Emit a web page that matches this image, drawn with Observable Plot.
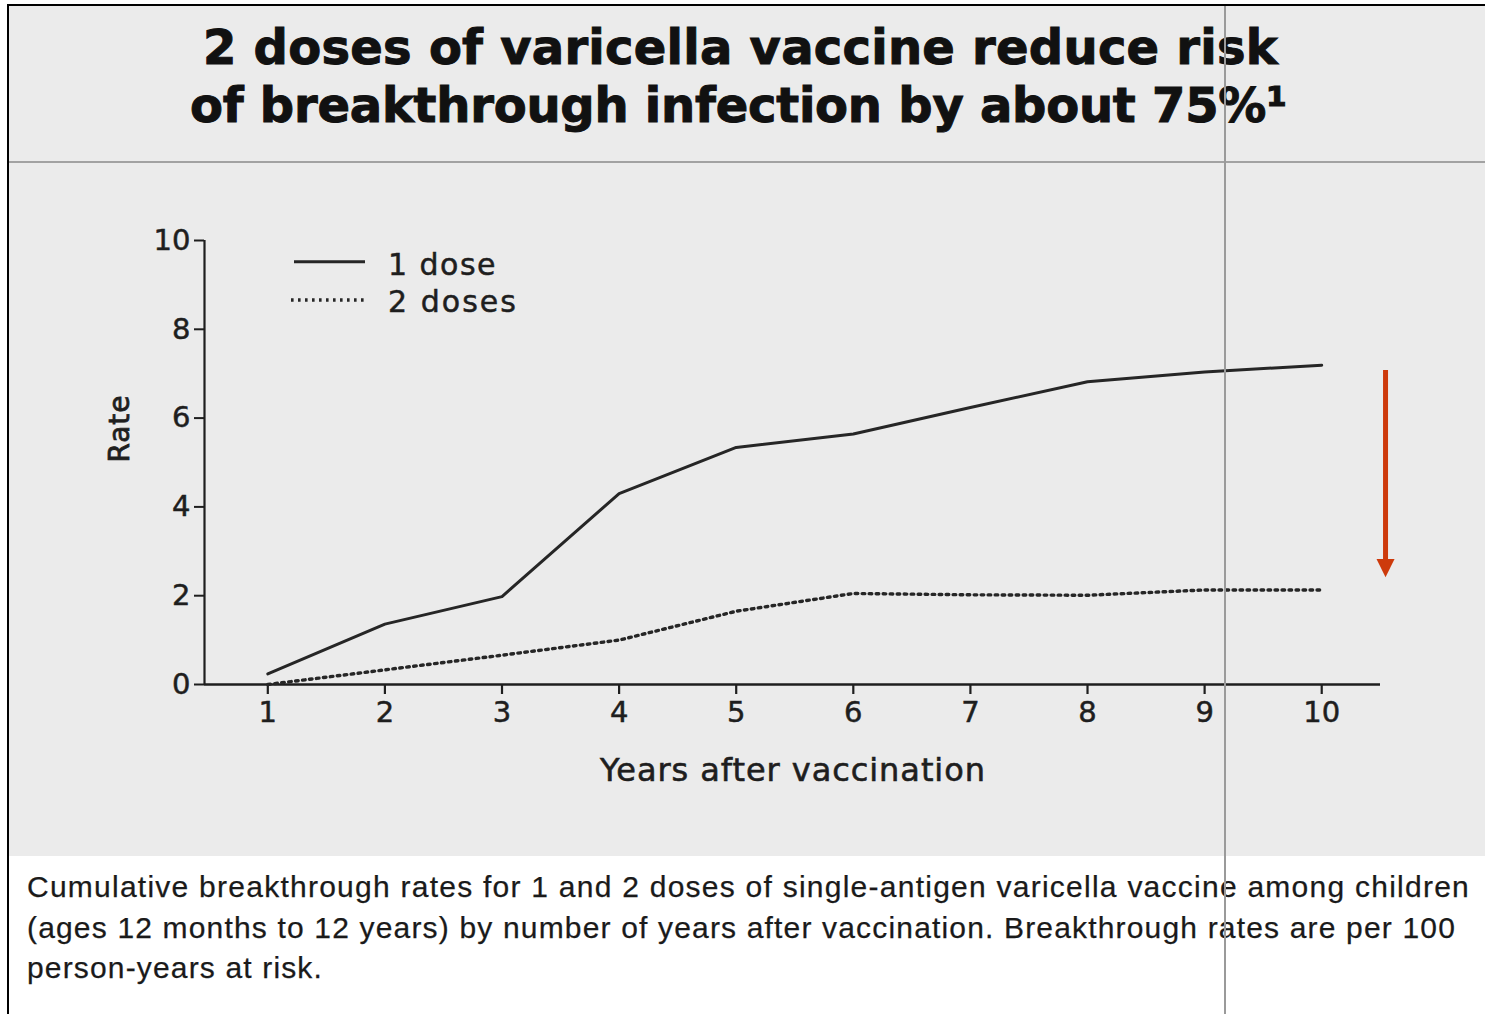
<!DOCTYPE html>
<html>
<head>
<meta charset="utf-8">
<script src="https://cdn.jsdelivr.net/npm/d3@7"></script>
<script src="https://cdn.jsdelivr.net/npm/@observablehq/plot@0.6"></script>
<style>
  html, body { margin: 0; padding: 0; background: #fff; }
  #page { position: relative; width: 1485px; height: 1014px; overflow: hidden; background: #fff; font-family: "DejaVu Sans", sans-serif; }
  .abs { position: absolute; }
  .line { position: absolute; white-space: nowrap; display: inline-block; }
  .title { font-family: "DejaVu Sans"; font-weight: bold; font-size: 48px; line-height: 48px; color: #111; -webkit-text-stroke: 1px #111; }
  .cap { font-family: "Liberation Sans"; font-size: 30px; line-height: 30px; color: #1a1a1a; -webkit-text-stroke: 0.25px #1a1a1a; }
  .leg { font-family: "DejaVu Sans"; font-size: 30px; line-height: 30px; color: #1e1e1e; -webkit-text-stroke: 0.5px #1e1e1e; }
</style>
</head>
<body>
<div id="page">
  <div class="abs" style="left:9px;top:6px;width:1476px;height:850px;background:#ebebeb;"></div>
  <div class="abs" style="left:9px;top:161px;width:1476px;height:2px;background:#a2a2a2;"></div>
  <div id="t1" class="line title" style="left:203px;top:23px;"></div>
  <div id="t2" class="line title" style="left:190px;top:81px;"></div>
  <div id="chart" class="abs" style="left:0;top:0;"></div>
  <svg class="abs" style="left:280px;top:245px;" width="100" height="70">
    <line x1="14" x2="85" y1="16.7" y2="16.7" stroke="#262626" stroke-width="3"></line>
    <line x1="11" x2="87" y1="55" y2="55" stroke="#262626" stroke-width="3.4" stroke-dasharray="2.6,4.4"></line>
  </svg>
  <div id="l1" class="line leg" style="left:388px;top:249.6px;"></div>
  <div id="l2" class="line leg" style="left:388px;top:286.6px;"></div>
  <div id="c1" class="line cap" style="left:27px;top:872px;"></div>
  <div id="c2" class="line cap" style="left:27px;top:913px;"></div>
  <div id="c3" class="line cap" style="left:27px;top:953px;"></div>
  <div class="abs" style="left:8px;top:4px;width:1477px;height:2px;background:#000;"></div>
  <div class="abs" style="left:7px;top:4px;width:2px;height:1010px;background:#000;"></div>
  <div class="abs" style="left:1224px;top:6px;width:1.5px;height:1008px;background:#9a9a9a;"></div>
</div>
<script>
// ---- data ----
const years = [1, 2, 3, 4, 5, 6, 7, 8, 9, 10];
const oneDose = [0.24, 1.36, 1.98, 4.30, 5.34, 5.64, 6.24, 6.82, 7.04, 7.19];
const twoDoses = [0.0, 0.33, 0.66, 1.00, 1.65, 2.05, 2.02, 2.01, 2.13, 2.13];
const yTicks = [0, 2, 4, 6, 8, 10];
const xTicks = [1, 2, 3, 4, 5, 6, 7, 8, 9, 10];
const seriesNames = ["1 dose", "2 doses"];
const titleLines = ["2 doses of varicella vaccine reduce risk", "of breakthrough infection by about 75%\u00B9"];
const xLabel = "Years after vaccination";
const yLabel = "Rate";
const captionLines = [
  "Cumulative breakthrough rates for 1 and 2 doses of single-antigen varicella vaccine among children",
  "(ages 12 months to 12 years) by number of years after vaccination. Breakthrough rates are per 100",
  "person-years at risk."
];
// reduction arrow annotation (from 1-dose level down to 2-dose level, beyond year 10)
const arrowNote = [{x: 10.545, yFrom: 7.07, yTo: 2.62}];

// ---- build ----
const rows1 = years.map((x, i) => ({x, y: oneDose[i]}));
const rows2 = years.map((x, i) => ({x, y: twoDoses[i]}));
const xMin = 0.4594, xMax = 10.502;
const red = "#cd3a0b";
const ink = "#1e1e1e";
const triangleDown = {
  draw(context) {
    context.moveTo(-9, -9.2);
    context.lineTo(9, -9.2);
    context.lineTo(0, 9.2);
    context.closePath();
  }
};

const chart = Plot.plot({
  width: 1485,
  height: 860,
  marginLeft: 204,
  marginRight: 105,
  marginTop: 240,
  marginBottom: 176,
  style: {background: "transparent", fontFamily: "DejaVu Sans", color: ink, overflow: "visible"},
  x: {domain: [xMin, xMax]},
  y: {domain: [0, 10]},
  marks: [
    Plot.ruleY([0], {x1: xMin, x2: xMax, stroke: ink, strokeWidth: 2.6}),
    Plot.ruleX([xMin], {y1: 0, y2: 10, stroke: ink, strokeWidth: 2.2}),
    Plot.axisY({ticks: yTicks, tickSize: 10, tickPadding: 4, fontSize: 29, label: null, strokeWidth: 2, stroke: ink}),
    Plot.axisX({ticks: xTicks, tickSize: 10, tickPadding: 7, fontSize: 29, label: null, strokeWidth: 2.2, stroke: ink}),
    Plot.line(rows1, {x: "x", y: "y", stroke: "#262626", strokeWidth: 3}),
    Plot.line(rows2, {x: "x", y: "y", stroke: "#262626", strokeWidth: 3.4, strokeDasharray: "2.6,4.4"}),
    Plot.text([xLabel], {text: d => d, frameAnchor: "bottom", dy: 86, fontSize: 32, lineAnchor: "middle", fill: ink}),
    Plot.text([yLabel], {text: d => d, frameAnchor: "left", dx: -84, rotate: -90, fontSize: 28, lineAnchor: "middle", fill: ink}),
    Plot.ruleX(arrowNote, {x: "x", y1: "yFrom", y2: d => d.yTo + 0.1, stroke: red, strokeWidth: 5}),
    Plot.dot(arrowNote, {x: "x", y: "yTo", symbol: triangleDown, fill: red, stroke: "none", r: 9})
  ]
});
document.getElementById("chart").appendChild(chart);

// tick labels slightly heavier, like the printed original
chart.querySelectorAll("[aria-label='y-axis tick label'] text, [aria-label='x-axis tick label'] text").forEach(t => {
  t.setAttribute("stroke", ink); t.setAttribute("stroke-width", 0.5);
});

// text
document.getElementById("t1").textContent = titleLines[0];
document.getElementById("t2").textContent = titleLines[1];
document.getElementById("l1").textContent = seriesNames[0];
document.getElementById("l2").textContent = seriesNames[1];
captionLines.forEach((t, i) => document.getElementById("c" + (i + 1)).textContent = t);

function fit(id, target) {
  const el = document.getElementById(id);
  el.style.letterSpacing = "0px";
  const w = el.getBoundingClientRect().width;
  const n = [...el.textContent].length;
  el.style.letterSpacing = ((target - w) / n) + "px";
}
fit("t1", 1075); fit("t2", 1097);
fit("l1", 109); fit("l2", 130);
fit("c1", 1443); fit("c2", 1429); fit("c3", 296);

chart.querySelectorAll("text").forEach(t => {
  if (t.textContent === xLabel) { t.setAttribute("textLength", 385); t.setAttribute("lengthAdjust", "spacing"); t.setAttribute("stroke", ink); t.setAttribute("stroke-width", 0.6); }
  if (t.textContent === yLabel) { t.setAttribute("textLength", 67); t.setAttribute("lengthAdjust", "spacing"); t.setAttribute("stroke", ink); t.setAttribute("stroke-width", 0.8); }
});
</script>
</body>
</html>
